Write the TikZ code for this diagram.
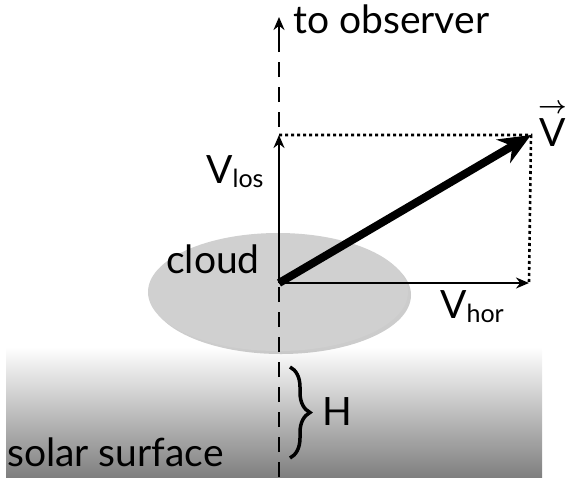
\documentclass[tikz,border=0pt]{standalone}
\usepackage{amsmath}
\usepackage{fontspec}
\setmainfont{Lato}
\usetikzlibrary{arrows.meta,positioning,shapes.geometric,shadows,decorations.pathreplacing}
\definecolor{solInk}{HTML}{000000}
\definecolor{solCloud}{HTML}{D0D0D0}
\definecolor{solDeep}{HTML}{7F7F7F}
\newcommand{\solsub}[1]{{\fontsize{25}{25}\selectfont\raisebox{-4pt}{#1}}}
\tikzset{
  every picture/.style={font=\fontsize{39}{42}\selectfont, text=solInk},
  sol axis/.style={-{Stealth[length=13pt,width=11pt]}, draw=solInk, line width=2.4pt},
  sol vec/.style={-{Stealth[length=32pt,width=27pt]}, draw=solInk, line width=8pt},
  sol dots/.style={draw=solInk, line width=2.6pt, dash pattern=on 3pt off 3pt},
  sol sight/.style={draw=solInk, line width=2.6pt, dash pattern=on 15pt off 10pt},
  sol label/.style={inner sep=0pt, anchor=base west}
}
\begin{document}
\begin{tikzpicture}[x=1pt,y=-1pt]
  \useasboundingbox (0,0) rectangle (578,480);
  % solar surface
  \shade[top color=white, bottom color=solDeep] (6,347) rectangle (542,477);
  \node[ellipse, fill=solCloud, minimum width=260, minimum height=118,
    drop shadow={opacity=0.4, shadow xshift=3pt, shadow yshift=-3pt}]
    (cloud) at (278,292) {};
  % line of sight
  \coordinate (base) at (279,477);
  \coordinate (tip) at (279,43);
  \coordinate (eye) at (279,17);
  \draw[sol sight] (base) -- (tip);
  \draw[sol axis] (tip) -- (eye);
  \node[sol label] (obs) at (293,33) {to observer};
  % velocity components
  \coordinate (O) at (279,283);
  \coordinate (los) at (279,135);
  \coordinate (hor) at (529,283);
  \coordinate (V) at (531,135);
  \draw[sol dots] (los) -- (V) -- (hor);
  \draw[sol axis] (O) -- (los);
  \draw[sol axis] (O) -- (hor);
  \draw[sol vec] (O) -- (V);
  \node[sol label] (vlos) at (206,183) {V\solsub{los}};
  \node[sol label] (vhor) at (440,318) {V\solsub{hor}};
  \node[sol label] (vtot) at (538,146) {$\overset{\boldsymbol{\rightarrow}}{\text{V}}$};
  \node[sol label] (cloudtxt) at (166,273) {cloud};
  % height above surface
  \coordinate (htop) at (290,367);
  \coordinate (hbot) at (290,458);
  \draw[decorate, decoration={brace, amplitude=20pt}, line width=3.5pt]
    (htop) -- (hbot);
  \node[sol label] (H) at (322,425) {H};
  \node[sol label] (surf) at (7,466) {solar surface};
\end{tikzpicture}
\end{document}
